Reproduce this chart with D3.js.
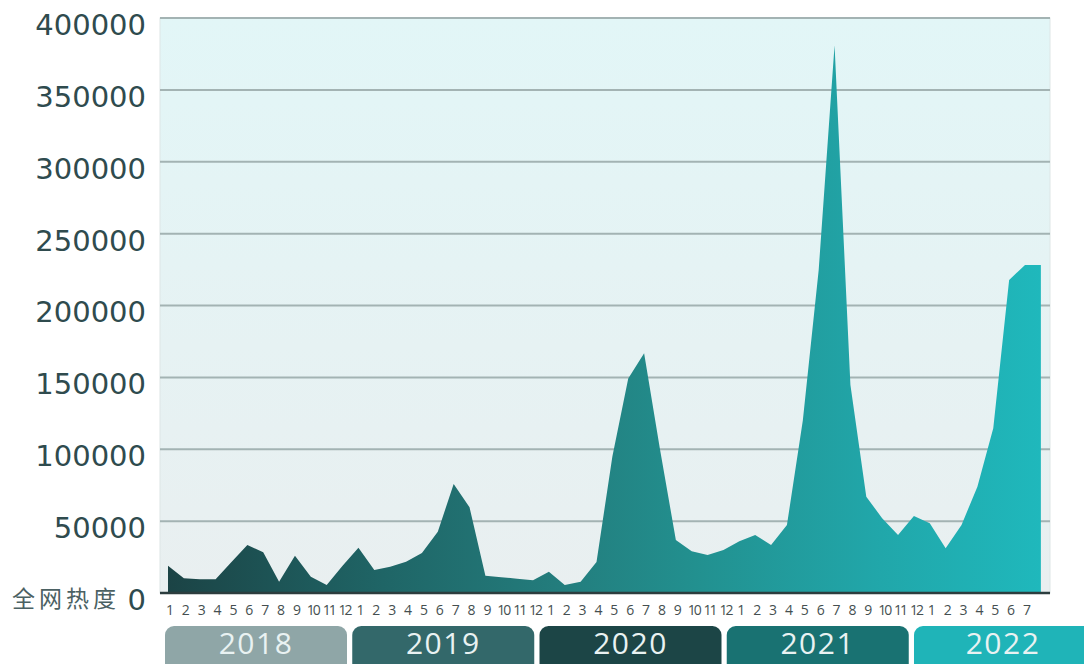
<!DOCTYPE html>
<html><head><meta charset="utf-8">
<script src="https://cdn.jsdelivr.net/npm/d3@7/dist/d3.min.js"></script>
<style>
html,body{margin:0;padding:0;background:#fff;}
svg{display:block;}
</style>
</head><body>
<svg id="chart" width="1084" height="664"></svg>
<script>
const years = ["2018","2019","2020","2021","2022"];
const monthsPerYear = [12,12,12,12,7];
const yearColors = ["#8fa6a7","#33686a","#1c4546","#197272","#1fb4b8"];
const yTicks = [0,50000,100000,150000,200000,250000,300000,350000,400000];
const yLabel = "全网热度";
const values2018 = [19000,10200,9500,9500,21500,33400,28300,7900,26000,11300,5600,19000];
const values2019 = [31500,16000,18300,21800,27800,42600,75800,59600,12000,11000,10000,8800];
const values2020 = [14800,5500,7800,21500,95000,149300,166700,100000,36900,29000,26400,30000];
const values2021 = [36000,40300,33400,47300,120000,224700,381000,144700,67000,52000,40300,53600];
const values2022 = [48500,31100,47300,74000,114600,217700,228200];

const data = [];
{
  let i = 0;
  const arrs = [values2018, values2019, values2020, values2021, values2022];
  arrs.forEach((arr, yi) => arr.forEach((v, mi) => { data.push({i: i++, year: yi, month: mi + 1, v}); }));
}
const n = data.length;

const svg = d3.select("#chart");
const plotL = 160, plotR = 1050, plotT = 18, plotB = 593;

const x = d3.scaleLinear().domain([0, n - 1]).range([168, 1025]);
const y = d3.scaleLinear().domain([0, 400000]).range([plotB, plotT]);
// year band scale (bands sit under the month labels, slightly narrower than 12 months)
const band = d3.scaleBand().domain(years).range([165, 165 + 186.2 * years.length]).paddingInner(0.028).paddingOuter(0).align(0);

const defs = svg.append("defs");
const bg = defs.append("linearGradient").attr("id","bg").attr("x1",0).attr("y1",0).attr("x2",0).attr("y2",1);
bg.append("stop").attr("offset","0%").attr("stop-color","#e2f6f7");
bg.append("stop").attr("offset","100%").attr("stop-color","#e9eff0");
const ag = defs.append("linearGradient").attr("id","ag").attr("gradientUnits","userSpaceOnUse")
  .attr("x1",plotL).attr("y1",0).attr("x2",plotR).attr("y2",0);
[["0%","#1b4244"],["25%","#1f6566"],["45%","#237d7d"],["60%","#22908f"],["80%","#21a6a9"],["100%","#1fb9bd"]]
  .forEach(([o,c]) => ag.append("stop").attr("offset",o).attr("stop-color",c));

svg.append("rect").attr("x",plotL).attr("y",plotT).attr("width",plotR-plotL).attr("height",plotB-plotT)
  .attr("fill","url(#bg)").attr("stroke","#dde6e6").attr("stroke-width",1);

// gridlines
svg.append("g").selectAll("line").data(yTicks.filter(t => t > 0)).join("line")
  .attr("x1",plotL).attr("x2",plotR).attr("y1",d=>y(d)).attr("y2",d=>y(d))
  .attr("stroke","#a3b3b3").attr("stroke-width",2);

// area (last value held a little past the final month)
const areaData = data.concat([{i: n, v: data[n-1].v}]);
const area = d3.area().x(d => x(d.i)).y0(y(0)).y1(d => y(d.v));
svg.append("path").datum(areaData).attr("d", area).attr("fill","url(#ag)");

// baseline
svg.append("line").attr("x1",plotL).attr("x2",plotR).attr("y1",plotB).attr("y2",plotB)
  .attr("stroke","#2c3d3e").attr("stroke-width",2.5);

// y axis labels
const yAxis = d3.axisLeft(y).tickValues(yTicks).tickSize(0).tickPadding(0).tickFormat(d3.format("d"));
const yg = svg.append("g").attr("transform","translate(146,6)").call(yAxis);
yg.select(".domain").remove();
yg.selectAll("text").attr("font-family","DejaVu Sans, sans-serif").attr("font-size",29)
  .attr("fill","#2f4b4e").attr("dy","0.36em");

svg.append("text").attr("x",12).attr("y",y(0) + 6).attr("dy","0.36em")
  .attr("font-family","Noto Sans CJK SC, sans-serif").attr("font-size",23).attr("letter-spacing",4)
  .attr("fill","#4b6163").text(yLabel);

// month labels
svg.append("g").selectAll("text").data(data).join("text")
  .attr("x", d => x(d.i) + 2).attr("y", 615).attr("text-anchor","middle")
  .attr("font-family","Open Sans, sans-serif").attr("font-size",14)
  .attr("letter-spacing", d => d.month >= 10 ? -2 : 0)
  .attr("fill","#454f50").text(d => d.month);

// year bands
const bandG = svg.append("g");
years.forEach((yr, k) => {
  const x0 = band(yr);
  const w = k === years.length - 1 ? 200 : band.bandwidth();
  bandG.append("rect").attr("x", x0).attr("y", 626).attr("width", w).attr("height", 50)
    .attr("rx", 9).attr("fill", yearColors[k]);
  const cx = k === years.length - 1 ? (x0 + 1084) / 2 + 4 : x0 + band.bandwidth() / 2;
  bandG.append("text").attr("x", cx).attr("y", 654).attr("text-anchor","middle")
    .attr("font-family","Open Sans, sans-serif").attr("font-size",30).attr("letter-spacing",1.5)
    .attr("fill","#e9f2f2").text(yr);
});
</script>
</body></html>
